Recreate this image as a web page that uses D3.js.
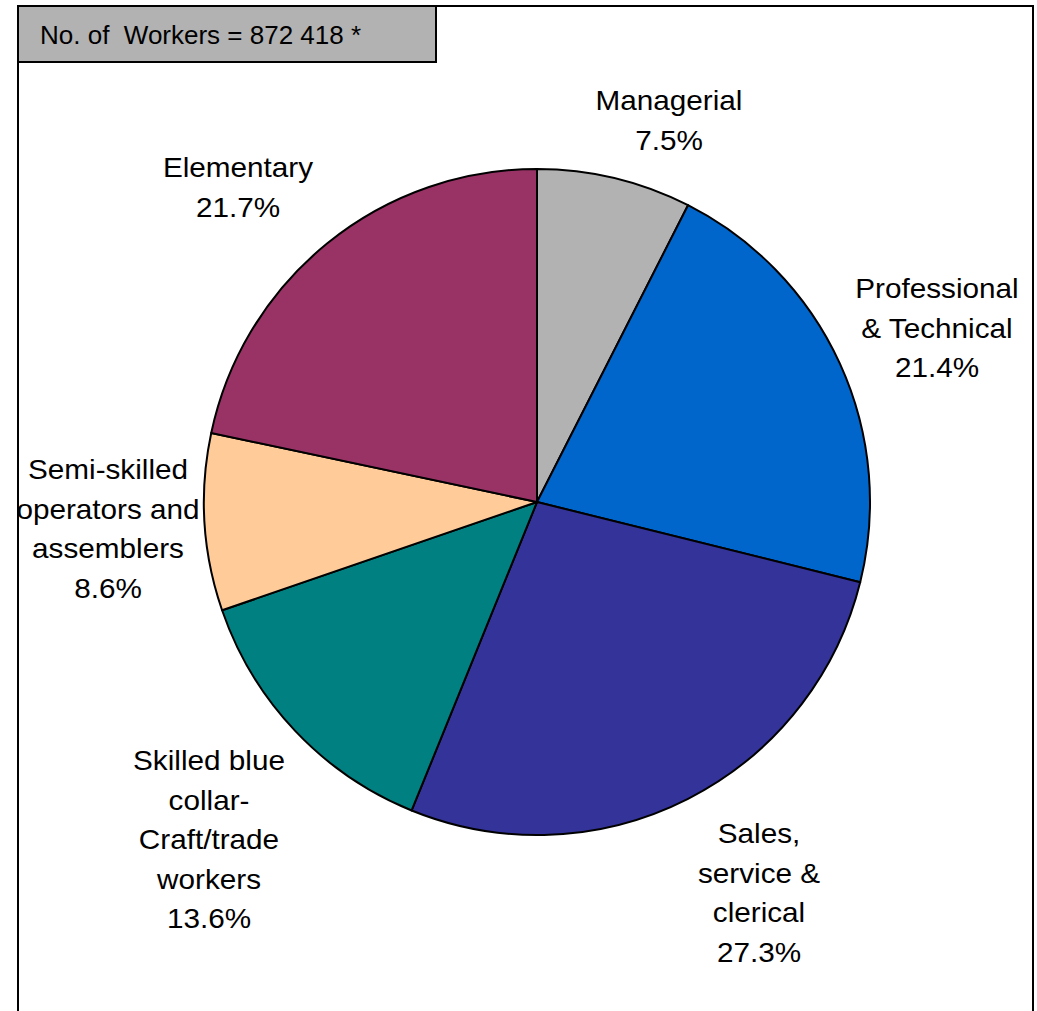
<!DOCTYPE html>
<html>
<head>
<meta charset="utf-8">
<script src="https://cdn.jsdelivr.net/npm/d3@7"></script>
<style>
  html, body { margin: 0; padding: 0; background: #ffffff; }
  svg { display: block; }
  text { font-family: "Liberation Sans", Arial, sans-serif; fill: #000; }
</style>
</head>
<body>
<svg id="chart" width="1037" height="1011"></svg>
<script>
// Occupational distribution of workers (share of total, %)
const categories = [
  "Managerial",
  "Professional & Technical",
  "Sales, service & clerical",
  "Skilled blue collar-Craft/trade workers",
  "Semi-skilled operators and assemblers",
  "Elementary"
];
const shares = [7.5, 21.4, 27.3, 13.6, 8.6, 21.7];
const labelLines = [
  ["Managerial"],
  ["Professional", "& Technical"],
  ["Sales,", "service &", "clerical"],
  ["Skilled blue", "collar-", "Craft/trade", "workers"],
  ["Semi-skilled", "operators and", "assemblers"],
  ["Elementary"]
];
const colors = ["#b2b2b2", "#0066cc", "#333399", "#008080", "#ffcc99", "#993366"];
const totalWorkers = "872 418";

const svg = d3.select("#chart");

// chart area background
svg.append("rect")
  .attr("x", 18).attr("y", 6)
  .attr("width", 1015).attr("height", 1030)
  .attr("fill", "#fff");

// pie
const cx = 537, cy = 502, radius = 333;
const pie = d3.pie().sort(null).value(d => d.value);
const arc = d3.arc().innerRadius(0).outerRadius(radius);
const data = categories.map((c, i) => ({ name: c, value: shares[i], color: colors[i], lines: labelLines[i] }));
const arcs = pie(data);

const g = svg.append("g").attr("transform", `translate(${cx},${cy})`);
g.selectAll("path")
  .data(arcs)
  .join("path")
  .attr("d", arc)
  .attr("fill", d => d.data.color)
  .attr("stroke", "#000")
  .attr("stroke-width", 2)
  .attr("stroke-linejoin", "round");

// label anchors (centre x, first baseline) relative to pie centre
const labelPos = {
  "Managerial": [132, -392],
  "Professional & Technical": [400, -204],
  "Sales, service & clerical": [222, 341],
  "Skilled blue collar-Craft/trade workers": [-328, 268],
  "Semi-skilled operators and assemblers": [-429, -23],
  "Elementary": [-299, -325]
};
const lineH = 39.5;

const labels = g.selectAll("g.lbl")
  .data(arcs)
  .join("g")
  .attr("class", "lbl")
  .attr("transform", d => `translate(${labelPos[d.data.name][0]},${labelPos[d.data.name][1]})`);

labels.each(function(d) {
  const lines = d.data.lines.concat([d3.format(".1f")(d.data.value) + "%"]);
  d3.select(this).selectAll("text")
    .data(lines)
    .join("text")
    .attr("transform", (t, i) => `translate(0,${i * lineH}) scale(1.1,1)`)
    .attr("text-anchor", "middle")
    .attr("font-size", 27)
    .text(t => t);
});

// chart frame border
svg.append("rect")
  .attr("x", 18).attr("y", 6)
  .attr("width", 1015).attr("height", 1030)
  .attr("fill", "none").attr("stroke", "#000").attr("stroke-width", 2);

// total box
svg.append("rect")
  .attr("x", 18).attr("y", 6)
  .attr("width", 418).attr("height", 56)
  .attr("fill", "#b2b2b2").attr("stroke", "#000").attr("stroke-width", 2);
svg.append("text")
  .attr("x", 40).attr("y", 44)
  .attr("font-size", 26)
  .attr("xml:space", "preserve")
  .style("white-space", "pre")
  .text(`No. of  Workers = ${totalWorkers} *`);
</script>
</body>
</html>
